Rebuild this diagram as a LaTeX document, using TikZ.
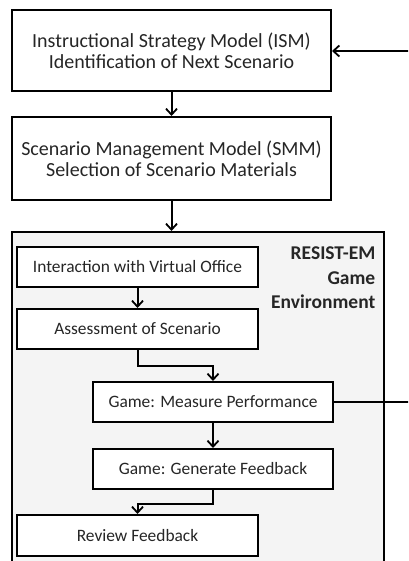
\documentclass[tikz,border=0pt]{standalone}
\usepackage{fontspec}
\setmainfont{Carlito}
\usetikzlibrary{arrows.meta}
\definecolor{envfill}{HTML}{F4F4F4}
\definecolor{txt}{HTML}{262626}
\tikzset{
  bigbox/.style={draw=black, line width=2pt, fill=white, minimum width=319pt, minimum height=81pt,
    align=center, inner sep=0pt, text=txt, font=\fontsize{20}{21}\selectfont},
  smallbox/.style={draw=black, line width=2pt, fill=white, minimum width=241pt, minimum height=40pt,
    align=center, inner sep=0pt, text=txt, font=\fontsize{17.4}{20}\selectfont},
  envbox/.style={draw=black, line width=2pt, fill=envfill, minimum width=372pt, minimum height=343pt, inner sep=0pt},
  conn/.style={draw=black, line width=2pt},
  arr/.style={conn, -{Straight Barb[length=6pt,width=11pt,line width=1.8pt]}}
}
\begin{document}
\begin{tikzpicture}[x=1pt,y=-1pt]
\useasboundingbox (0,0) rectangle (408,561);
\clip (0,0) rectangle (408,561);
\fill[white] (0,0) rectangle (408,561);
\node[envbox] (env) at (198,403.5) {};
\node[bigbox] (ism) at (171.5,50.5) {Instructional Strategy Model (ISM)\\Identification of Next Scenario};
\node[bigbox, minimum height=83pt] (smm) at (171.5,158.5) {Scenario Management Model (SMM)\\Selection of Scenario Materials};
\node[anchor=north east, align=right, inner sep=0pt, text=txt, font=\bfseries\fontsize{19.5}{24.5}\selectfont] (envlabel) at (375.5,247) {RESIST-EM\\Game\\Environment};
\node[smallbox] (b1) at (137.5,267) {Interaction with Virtual Office};
\node[smallbox] (b2) at (137.5,329) {Assessment of Scenario};
\node[smallbox, minimum width=240pt] (b3) at (213,402) {Game: Measure Performance};
\node[smallbox, minimum width=240pt] (b4) at (213,469) {Game: Generate Feedback};
\node[smallbox, minimum height=41pt] (b5) at (137.5,535.5) {Review Feedback};
\coordinate (edgeA) at (414,402);
\coordinate (edgeB) at (414,51);
\draw[arr] (ism) -- (smm);
\draw[arr] (smm.south) -- (smm.south |- env.north);
\draw[arr] (b1) -- (b2);
\draw[arr] (b2.south) -- ++(0,16) -| (b3.north);
\draw[arr] (b3) -- (b4);
\draw[arr] (b4.south) -- ++(0,14) -| (b5.north);
\draw[arr] (b3.east) -- (edgeA) -- (edgeB) -- (ism.east |- edgeB);
\end{tikzpicture}
\end{document}
